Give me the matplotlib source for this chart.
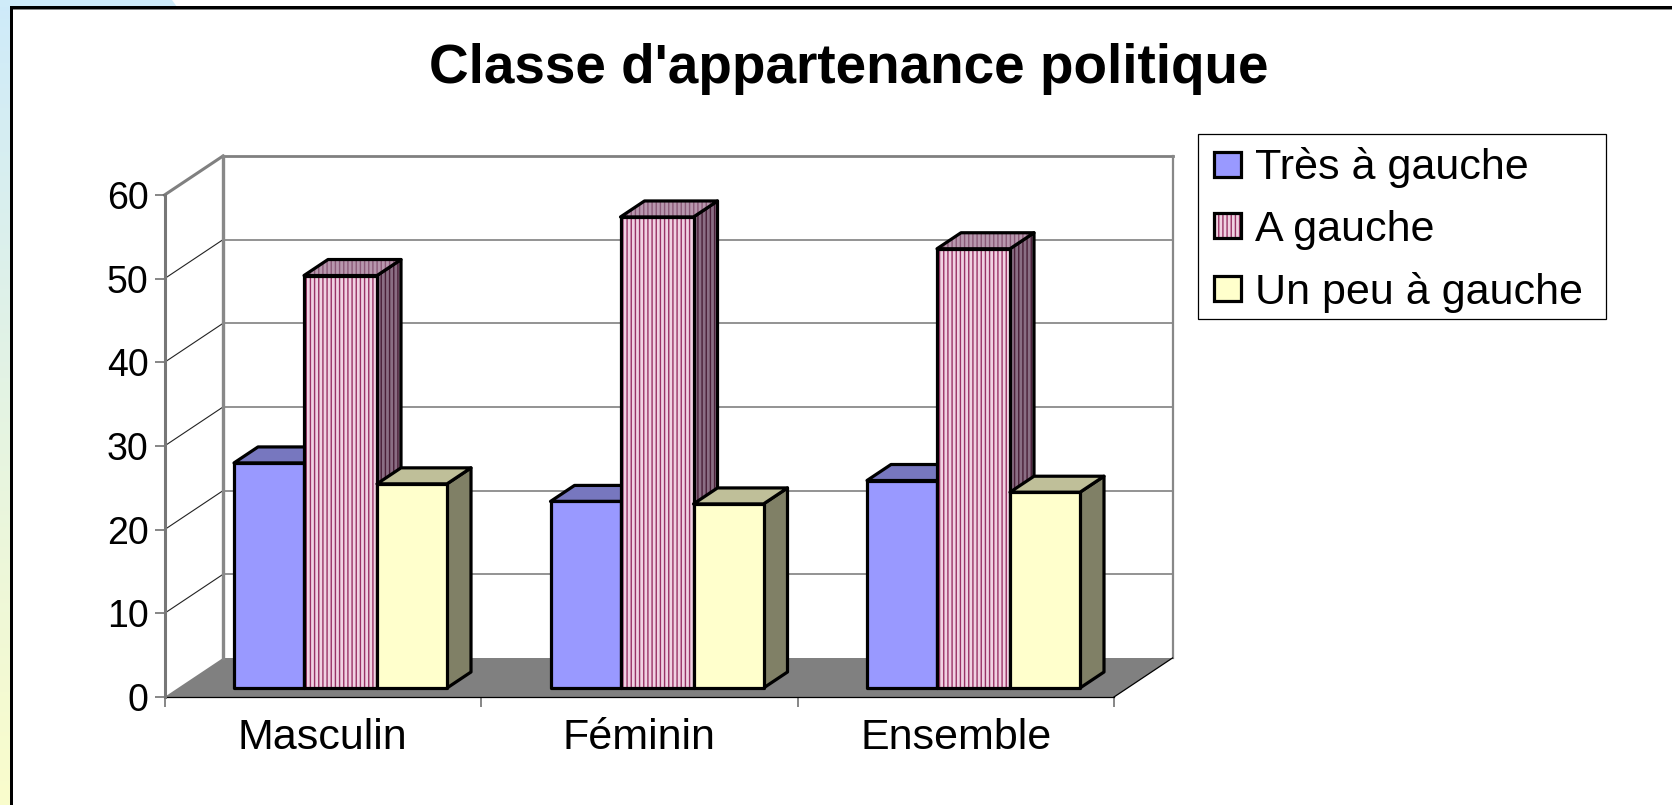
import matplotlib
matplotlib.use('Agg')
import matplotlib.pyplot as plt
import numpy as np
from matplotlib.patches import Polygon, Patch, Rectangle
from matplotlib.legend_handler import HandlerTuple

plt.rcParams['font.family'] = ['Liberation Sans', 'DejaVu Sans']
plt.rcParams['hatch.linewidth'] = 1.0

# data
categories = ['Masculin', 'Féminin', 'Ensemble']
tres_a_gauche = [26.9, 22.3, 24.8]
a_gauche = [49.3, 56.3, 52.5]
un_peu_a_gauche = [24.4, 22.0, 23.4]
series_names = ['Très à gauche', 'A gauche', 'Un peu à gauche']
y_ticks = [0, 10, 20, 30, 40, 50, 60]

W, H = 1672, 805
fig = plt.figure(figsize=(W / 100, H / 100), dpi=100, facecolor='white')

# page behind the chart, in pixels
bg = fig.add_axes([0, 0, 1, 1], zorder=0)
bg.axis('off')
top_col = np.array([0.81, 0.92, 0.98])
bot_col = np.array([0.98, 0.99, 0.80])
grad = np.linspace(0, 1, 200)[:, None, None] * (bot_col - top_col) + top_col
bg.imshow(grad, extent=[0, 10, H, 0], aspect='auto')
bg.set_xlim(0, W)
bg.set_ylim(H, 0)
bg.add_patch(Polygon([(0, 0), (172, 0), (177, 7), (0, 7)], fc='#CFEBF9', ec='none'))
bg.add_patch(Rectangle((10, 6), W, 3, fc='black', ec='none'))
bg.add_patch(Rectangle((13, 9), W, 1, fc='#888888', ec='none'))
bg.add_patch(Rectangle((10, 6), 3, H, fc='black', ec='none'))

# front plane of the chart
left, right, base, top = 164.5, 1114, 697, 195
ax = fig.add_axes([left / W, 1 - base / H, (right - left) / W, (base - top) / H], zorder=1)
ax.set_xlim(0, 3)
ax.set_ylim(0, 60)
ax.patch.set_alpha(0)

px_x = 3 / (right - left)
px_y = 60 / (base - top)

# depth of the box
dx = 58.5 * px_x
dy = 39 * px_y

# floor and back wall
ax.add_patch(Polygon([(0, 0), (dx, dy), (3 + dx, dy), (3, 0)], fc='#808080', ec='none',
                     clip_on=False, zorder=1))
for v in y_ticks[1:]:
    if v == 60:
        c, lw = '#808080', 2.2
    else:
        c, lw = '#222222', 0.8
    ax.plot([0, dx], [v, v + dy], color=c, lw=lw, clip_on=False, zorder=1)
    ax.plot([dx, 3 + dx], [v + dy, v + dy], color='#808080', lw=2.0 if v == 60 else 1.2,
            clip_on=False, zorder=1)
ax.plot([dx, dx], [dy, 60 + dy], color='#888888', lw=2.4, clip_on=False, zorder=1)
ax.plot([3 + dx, 3 + dx], [dy, 60 + dy], color='#888888', lw=1.6, clip_on=False, zorder=1)
ax.plot([3, 3 + dx], [0, dy], color='black', lw=0.9, clip_on=False, zorder=1)

# bars
gap = 69.5 * px_x
blue_w = 70 * px_x
pink_w = 73 * px_x
yellow_w = 70 * px_x
front_y = 9 * px_y
bar_dx = 24 * px_x
bar_dy = 16 * px_y
outline = 2.3


def draw_face(pts, fc, stripe=None):
    if stripe:
        ax.add_patch(Polygon(pts, fc=fc, ec=stripe, lw=0, hatch='||||', clip_on=False, zorder=3))
    else:
        ax.add_patch(Polygon(pts, fc=fc, ec='none', clip_on=False, zorder=3))
    ax.add_patch(Polygon(pts, fc='none', ec='black', lw=outline, joinstyle='round',
                         clip_on=False, zorder=3))


def draw_bar(x, w, v, front, side, roof, stripes=(None, None, None)):
    y0 = front_y
    y1 = front_y + v
    x1 = x + w
    draw_face([(x1, y0), (x1 + bar_dx, y0 + bar_dy), (x1 + bar_dx, y1 + bar_dy), (x1, y1)], side, stripes[1])
    draw_face([(x, y1), (x1, y1), (x1 + bar_dx, y1 + bar_dy), (x + bar_dx, y1 + bar_dy)], roof, stripes[2])
    draw_face([(x, y0), (x1, y0), (x1, y1), (x, y1)], front, stripes[0])


for i in range(len(categories)):
    x = i + gap
    draw_bar(x, blue_w, tres_a_gauche[i], '#9999FF', '#4C4C80', '#7777BF')
    draw_bar(x + blue_w, pink_w, a_gauche[i], '#F0D2E2', '#8A6E84', '#B898AE',
             stripes=('#993366', '#4A1F38', '#8A5A78'))
    draw_bar(x + blue_w + pink_w, yellow_w, un_peu_a_gauche[i], '#FFFFCC', '#808066', '#BFBF99')

# axes
for s in ['top', 'right']:
    ax.spines[s].set_visible(False)
ax.spines['left'].set_color('#777777')
ax.spines['left'].set_linewidth(2.2)
ax.spines['bottom'].set_color('black')
ax.spines['bottom'].set_linewidth(0.9)
ax.spines['bottom'].set_zorder(2)
ax.set_yticks(y_ticks)
ax.tick_params(axis='y', length=7.5, width=1.1, color='#666666', labelsize=27, pad=4)
ax.set_xticks([0, 1, 2, 3])
ax.set_xticklabels([])
ax.set_xticks([0.5, 1.5, 2.5], minor=True)
ax.set_xticklabels(categories, minor=True)
ax.tick_params(axis='x', which='major', length=7.5, width=1.1, color='#666666')
ax.tick_params(axis='x', which='minor', length=0, labelsize=31, pad=15)

fig.text(849 / W, 1 - 69 / H, "Classe d'appartenance politique", fontsize=39.5, fontweight='bold',
         ha='center', va='center')

# legend, box drawn on its own so the swatch inset can differ from the box padding
bg.add_patch(Rectangle((1198, 134), 407.5, 185, fc='white', ec='black', lw=0.9))
handles = [
    Patch(fc='#9999FF', ec='black', lw=outline),
    (Patch(fc='#F0D2E2', ec='#993366', lw=0, hatch='||||'), Patch(fc='none', ec='black', lw=outline)),
    Patch(fc='#FFFFCC', ec='black', lw=outline),
]
leg = fig.legend(handles, series_names, loc='upper left',
                 bbox_to_anchor=(1214 / W, 1 - 147.5 / H), bbox_transform=fig.transFigure,
                 fontsize=31, frameon=False,
                 borderpad=0, labelspacing=0.5, handlelength=0.63, handleheight=0.51,
                 handletextpad=0.33, borderaxespad=0,
                 handler_map={tuple: HandlerTuple(ndivide=1, pad=0)})
leg.set_zorder(5)

fig.savefig('out.png', dpi=100)
